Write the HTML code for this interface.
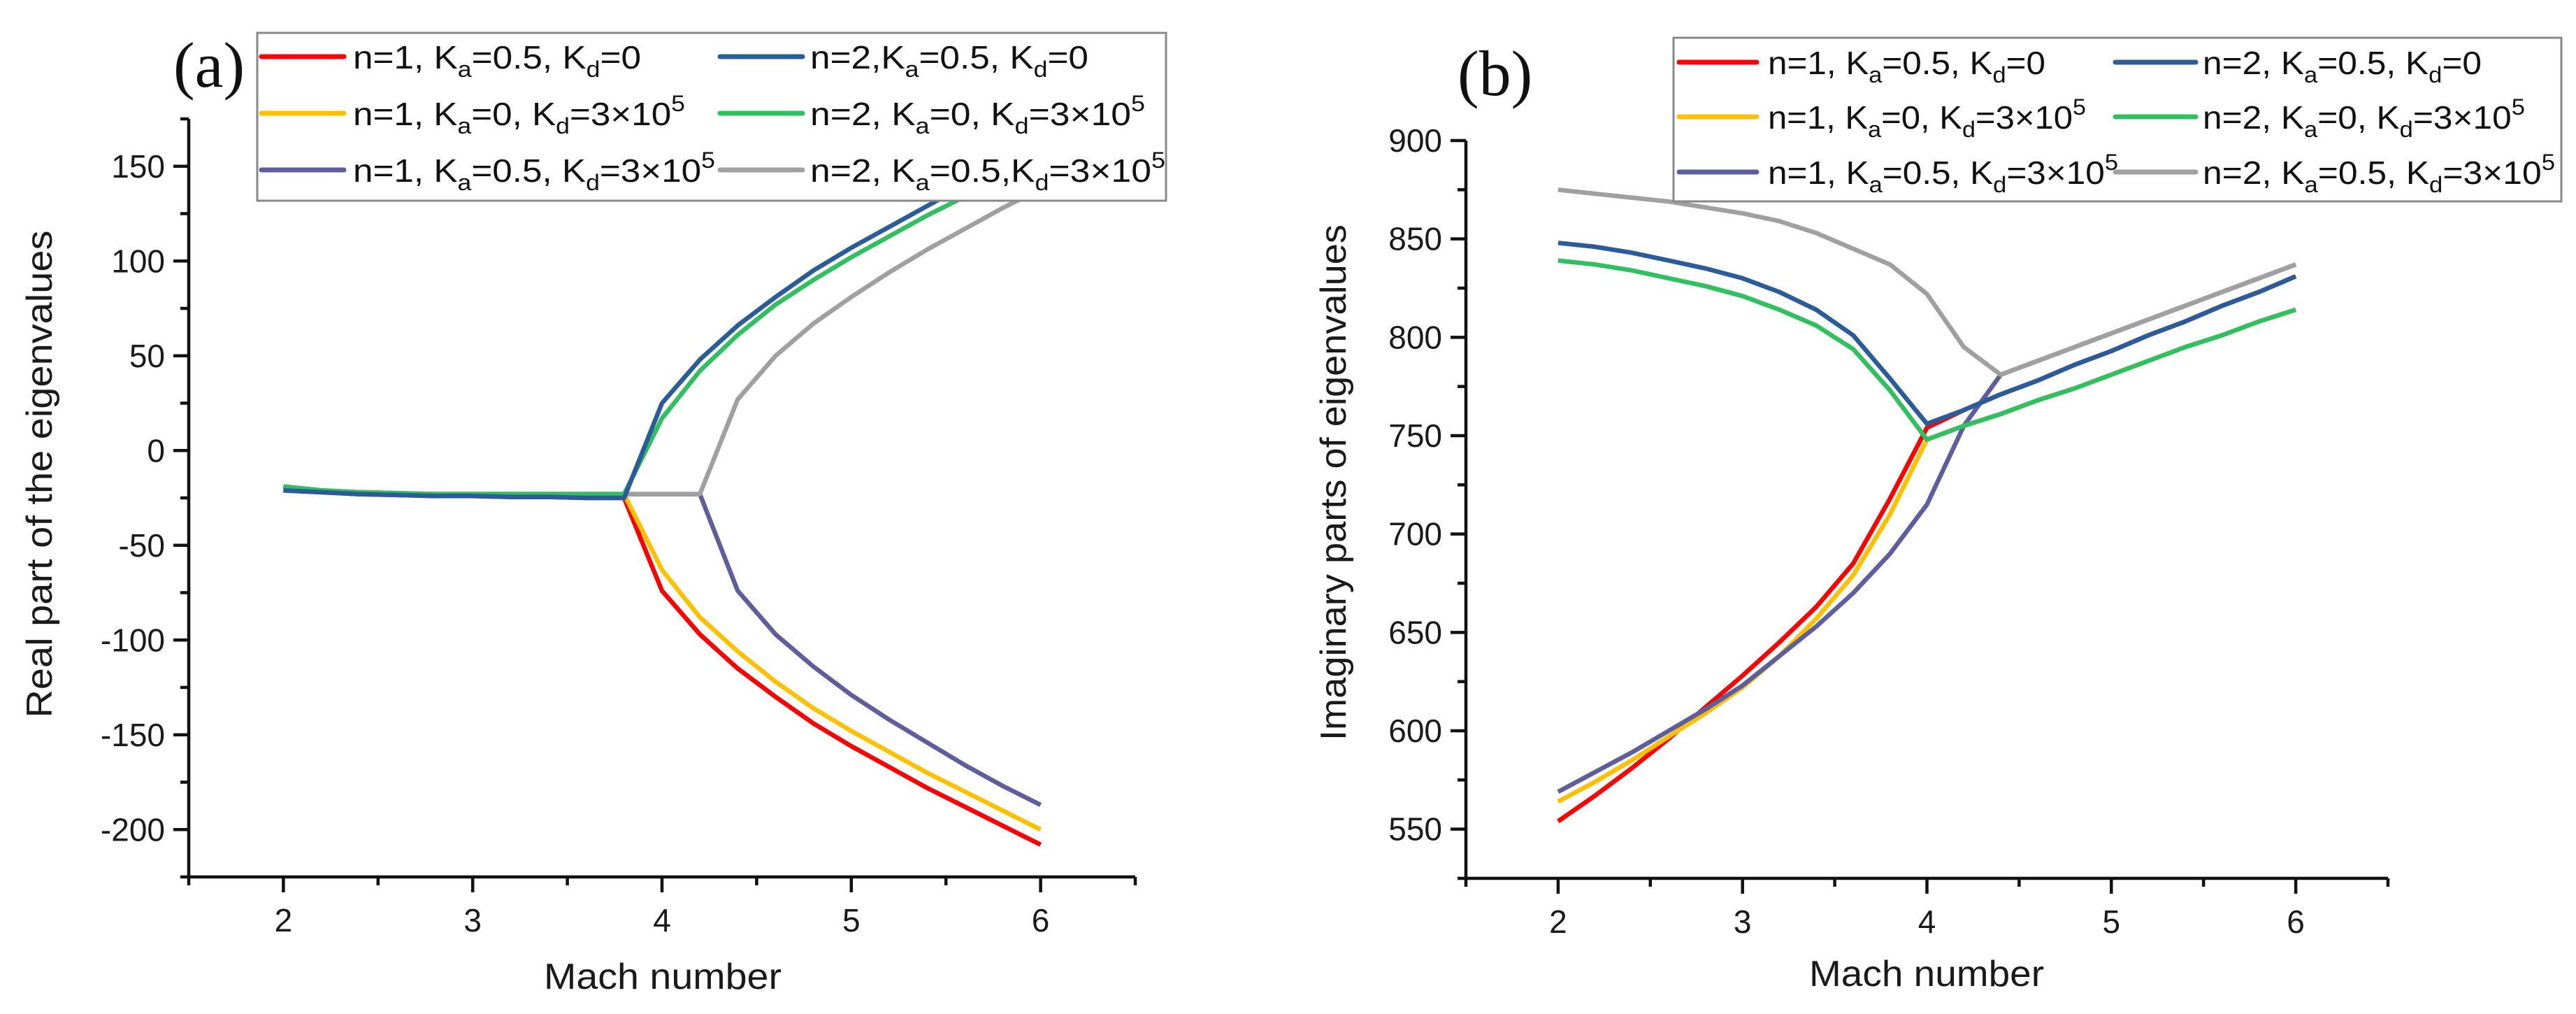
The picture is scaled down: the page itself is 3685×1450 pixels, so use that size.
<!DOCTYPE html>
<html><head><meta charset="utf-8">
<style>html,body{margin:0;padding:0;background:#fff;}svg{display:block;}</style>
</head><body>
<svg id="fig" xmlns="http://www.w3.org/2000/svg" width="3685" height="1450" viewBox="0 0 3685 1450" font-family="Liberation Sans, Arial, sans-serif">
<rect width="3685" height="1450" fill="#fff"/>
<g id="pa"></g>
<g id="pb"></g>
</svg>
<script>
const machX = [2,2.2,2.4,2.6,2.8,3,3.2,3.4,3.6,3.8,4,4.2,4.4,4.6,4.8,5,5.2,5.4,5.6,5.8,6];
// Panel (a) real parts
const realRedN1 = [-21,-22,-23,-23.5,-24,-24,-24.5,-24.5,-25,-25,-74,-97,-115,-130,-144,-156,-167,-178,-188,-198,-208];
const realBlueN2 = [-21,-22,-23,-23.5,-24,-24,-24.5,-24.5,-25,-25,25,48,66,81,95,107,118,129,140,150,160];
const realYellowN1 = [-19,-21,-22,-22.5,-23,-23,-23,-23,-23,-23,-63,-88,-106,-122,-136,-148,-159,-170,-180,-190,-200];
const realGreenN2 = [-19,-21,-22,-22.5,-23,-23,-23,-23,-23,-23,17,42,61,77,90,102,113,124,134,145,155];
const realPurpleN1 = [-19,-21,-22,-22.5,-23,-23,-23,-23,-23,-23,-23,-23,-74,-97,-114,-129,-142,-154,-166,-177,-187];
const realGrayN2 = [-19,-21,-22,-22.5,-23,-23,-23,-23,-23,-23,-23,-23,27,50,67,81,94,106,117,128,138];
// Panel (b) imaginary parts
const imBlueN2 = [848,846,843,839,835,830,823,814,801,779,756,763,771,778,786,793,801,808,816,823,831];
const imRedN1 = [554,567,581,596,612,628,645,663,685,718,754,763,771,778,786,793,801,808,816,823,831];
const imGreenN2 = [839,837,834,830,826,821,814,806,794,773,748,755,761,768,774,781,788,795,801,808,814];
const imYellowN1 = [564,574,585,597,609,622,638,657,679,710,748,755,761,768,774,781,788,795,801,808,814];
const imGrayN2 = [875,873,871,869,866,863,859,853,845,837,822,795,781,788,795,802,809,816,823,830,837];
const imPurpleN1 = [569,579,589,600,611,623,638,653,670,690,715,755,781,788,795,802,809,816,823,830,837];
const xTicks = [2,3,4,5,6];
const realTicks = [150,100,50,0,-50,-100,-150,-200];
const imTicks = [900,850,800,750,700,650,600,550];

const NS='http://www.w3.org/2000/svg';
function mk(tag, attrs, parent){const e=document.createElementNS(NS,tag);for(const k in attrs)e.setAttribute(k,attrs[k]);parent.appendChild(e);return e;}
function lin(d0,d1,r0,r1){return v=>r0+(v-d0)*(r1-r0)/(d1-d0);}

const colors={red:'#ff0000',blue:'#2b5c9a',yellow:'#ffc000',green:'#30c060',purple:'#5e5e9e',gray:'#a0a0a0'};

function panel(g, cfg){
  const X=lin(1.5,6.5,cfg.x0,cfg.x1), Y=lin(cfg.ymin,cfg.ymax,cfg.yb,cfg.yt);
  cfg.series.forEach(s=>{
    const pts=machX.map((m,i)=>X(m).toFixed(1)+','+Y(s.v[i]).toFixed(1)).join(' ');
    const p=mk('polyline',{points:pts,fill:'none',stroke:colors[s.c],'stroke-width':6.5,'stroke-linejoin':'round'},g);
    
    
  });
  const ax=mk('path',{d:`M${cfg.x0},${cfg.yt} V${cfg.yb} H${cfg.x1}`,stroke:'#111',fill:'none','stroke-width':4.5},g);
  
  
  for(let v=1.5; v<=6.51; v+=0.5){
    const major=Math.abs(v-Math.round(v))<1e-6;
    const t=mk('line',{x1:X(v),x2:X(v),y1:cfg.yb,y2:cfg.yb+(major?22:12),stroke:'#111','stroke-width':4.5},g);
    
    
  }
  xTicks.forEach(v=>{
    const t=mk('text',{x:X(v),y:cfg.yb+78,'font-size':46,'text-anchor':'middle',fill:'#1a1a1a'},g);
    t.textContent=v;
    
    
  });
  for(let v=cfg.ymin; v<=cfg.ymax+0.01; v+=25){
    const major=(v%50===0);
    const t=mk('line',{x1:cfg.x0-(major?22:12),x2:cfg.x0,y1:Y(v),y2:Y(v),stroke:'#111','stroke-width':4.5},g);
    
    
  }
  cfg.yTicks.forEach(v=>{
    const t=mk('text',{x:cfg.x0-34,y:Y(v)+16,'font-size':46,'text-anchor':'end',fill:'#1a1a1a'},g);
    t.textContent=v;
    
    
  });
  const xt=mk('text',{x:cfg.xtx,y:cfg.xty,'font-size':52,'text-anchor':'middle',fill:'#1a1a1a',textLength:cfg.xtw,lengthAdjust:'spacingAndGlyphs'},g);
  xt.textContent='Mach number';
  
  
  const yt=mk('text',{x:0,y:0,'font-size':52,'text-anchor':'middle',fill:'#1a1a1a',textLength:cfg.ytw,lengthAdjust:'spacingAndGlyphs',transform:`translate(${cfg.ytx},${cfg.yty}) rotate(-90)`},g);
  yt.textContent=cfg.ytitle;
  
  
  const pl=mk('text',{x:cfg.lx,y:cfg.ly,'font-size':92,'font-family':'Liberation Serif, serif',fill:'#111'},g);
  pl.textContent=cfg.label;
  
  
  const L=cfg.leg;
  const lb=mk('rect',{x:L.x0,y:L.y0,width:L.x1-L.x0,height:L.y1-L.y0,fill:'#fff',stroke:'#888','stroke-width':3},g);
  
  
  L.items.forEach(it=>{
    const ln=mk('line',{x1:it.sx0,x2:it.sx1,y1:it.y,y2:it.y,stroke:colors[it.c],'stroke-width':7,'stroke-linecap':'round'},g);
    
    
    const t=mk('text',{x:it.tx,y:it.y+17,'font-size':46,fill:'#111',textLength:it.tw,lengthAdjust:'spacingAndGlyphs'},g);
    
    
    it.parts.forEach(p=>{
      const sp=mk('tspan',{},t);
      if(p[1]==='sub'){sp.setAttribute('font-size',32);sp.setAttribute('dy',12);}
      else if(p[1]==='sup'){sp.setAttribute('font-size',32);sp.setAttribute('dy',-20);}
      else if(p[1]==='back'){sp.setAttribute('dy',-12);}
      sp.textContent=p[0];
    });
  });
}
function parts(n,ka,kd,sep1,sep2){
  const a=[[`n=${n}${sep1}K`,''],['a','sub'],[`=${ka}${sep2}K`,'back'],['d','sub']];
  if(kd==='0') a.push(['=0','back']); else {a.push(['=3×10','back']);a.push(['5','sup']);}
  return a;
}
panel(document.getElementById('pa'),{
  x0:270,x1:1624,ymin:-225,ymax:175,yb:1254,yt:170,yTicks:realTicks,
  xtx:948,xty:1414,xtw:340,ytx:74,yty:678,ytw:697,ytitle:'Real part of the eigenvalues',
  label:'(a)',lx:248,ly:124,
  series:[
    {name:'series-n1-ka05-kd0',c:'red',v:realRedN1},
    {name:'series-n1-ka0-kd3e5',c:'yellow',v:realYellowN1},
    {name:'series-n1-ka05-kd3e5',c:'purple',v:realPurpleN1},
    {name:'series-n2-ka05-kd3e5',c:'gray',v:realGrayN2},
    {name:'series-n2-ka0-kd3e5',c:'green',v:realGreenN2},
    {name:'series-n2-ka05-kd0',c:'blue',v:realBlueN2}],
  leg:{x0:368,y0:47,x1:1668,y1:287,items:[
    {c:'red',y:81,sx0:374,sx1:492,tx:505,tw:412,parts:parts(1,'0.5','0',', ',', ')},
    {c:'yellow',y:162,sx0:374,sx1:492,tx:505,tw:475,parts:parts(1,'0',"3",', ',', ')},
    {c:'purple',y:243,sx0:374,sx1:492,tx:505,tw:518,parts:parts(1,'0.5','3',', ',', ')},
    {c:'blue',y:81,sx0:1030,sx1:1148,tx:1159,tw:398,parts:parts(2,'0.5','0',',',', ')},
    {c:'green',y:162,sx0:1030,sx1:1148,tx:1159,tw:479,parts:parts(2,'0','3',', ',', ')},
    {c:'gray',y:243,sx0:1030,sx1:1148,tx:1159,tw:508,parts:parts(2,'0.5','3',', ',',')}]}
});
panel(document.getElementById('pb'),{
  x0:2097,x1:3416,ymin:525,ymax:900,yb:1256,yt:201,yTicks:imTicks,
  xtx:2756,xty:1410,xtw:336,ytx:1925,yty:690,ytw:738,ytitle:'Imaginary parts of eigenvalues',
  label:'(b)',lx:2085,ly:136,
  series:[
    {name:'series-n1-ka05-kd0',c:'red',v:imRedN1},
    {name:'series-n1-ka0-kd3e5',c:'yellow',v:imYellowN1},
    {name:'series-n1-ka05-kd3e5',c:'purple',v:imPurpleN1},
    {name:'series-n2-ka05-kd3e5',c:'gray',v:imGrayN2},
    {name:'series-n2-ka0-kd3e5',c:'green',v:imGreenN2},
    {name:'series-n2-ka05-kd0',c:'blue',v:imBlueN2}],
  leg:{x0:2394,y0:54,x1:3664,y1:288,items:[
    {c:'red',y:89,sx0:2402,sx1:2513,tx:2529,tw:397,parts:parts(1,'0.5','0',', ',', ')},
    {c:'yellow',y:167,sx0:2402,sx1:2513,tx:2529,tw:455,parts:parts(1,'0','3',', ',', ')},
    {c:'purple',y:246,sx0:2402,sx1:2513,tx:2529,tw:501,parts:parts(1,'0.5','3',', ',', ')},
    {c:'blue',y:89,sx0:3026,sx1:3141,tx:3151,tw:399,parts:parts(2,'0.5','0',', ',', ')},
    {c:'green',y:167,sx0:3026,sx1:3141,tx:3151,tw:461,parts:parts(2,'0','3',', ',', ')},
    {c:'gray',y:246,sx0:3026,sx1:3141,tx:3151,tw:504,parts:parts(2,'0.5','3',', ',', ')}]}
});
</script>
</body></html>
